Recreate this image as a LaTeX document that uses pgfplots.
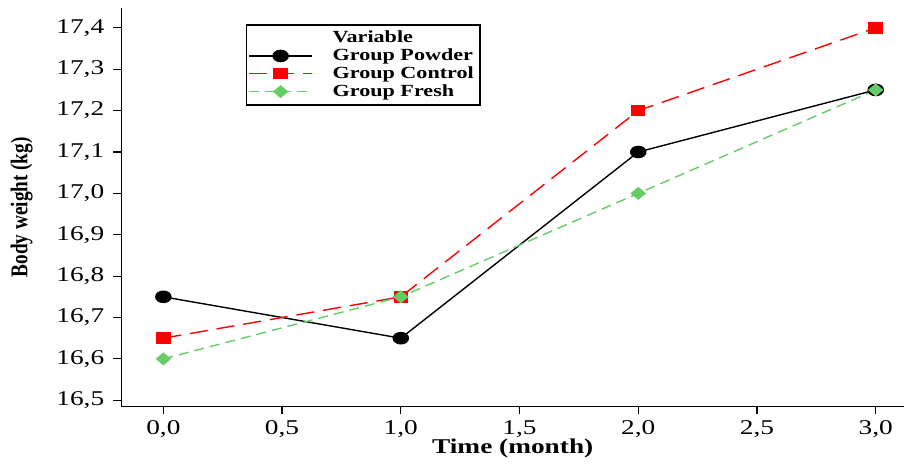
\documentclass[border=0pt]{standalone}
\usepackage{pgfplots}
\pgfplotsset{compat=1.18}
\usepackage{fontspec}
\setmainfont{Liberation Serif}[FakeStretch=1.3]
\newfontfamily\ylabfont{Liberation Serif}[FakeStretch=0.8]
\definecolor{fgreen}{RGB}{102,204,102}
\begin{document}
\begin{tikzpicture}
\begin{axis}[
  scale only axis,
  width=391pt, height=199pt,
  xmin=-0.177, xmax=3.12,
  ymin=16.485, ymax=17.448,
  axis lines*=left,
  axis line style={line width=0.8pt},
  tick align=outside,
  major tick length=4pt,
  tick style={black, line width=0.6pt},
  xtick={0,0.5,...,3},
  ytick={16.5,16.6,...,17.41},
  /pgf/number format/assume math mode=true,
  /pgf/number format/use comma,
  /pgf/number format/fixed,
  /pgf/number format/fixed zerofill,
  /pgf/number format/precision=1,
  ticklabel style={font=\fontsize{10.5}{12}\selectfont},
  yticklabel style={xshift=-1pt},
  xticklabel style={yshift=0.7pt},
  xlabel={\textbf{Time (month)}},
  ylabel={\textbf{Body weight (kg)}},
  label style={font=\fontsize{10.5}{12}\selectfont},
  xlabel style={yshift=6pt},
  ylabel style={yshift=5pt, font=\ylabfont\fontsize{12}{13}\selectfont},
  legend style={at={(0.159,0.96)}, anchor=north west, draw=black, line width=0.8pt,
    font=\bfseries\fontsize{8.5}{10}\selectfont, row sep=-2.5pt, inner sep=1pt, column sep=8pt},
  legend cell align=left,
  legend image code/.code={\draw[mark repeat=2,mark phase=2] plot coordinates {(0cm,0cm) (0.55cm,0cm) (1.1cm,0cm)};},
  clip=false,
]
\addlegendimage{empty legend}
\addlegendentry{Variable}
\addplot[black, line width=0.7pt, mark=*, mark size=2.8pt, mark options={xscale=1.35, solid}]
  coordinates {(0,16.75) (1,16.65) (2,17.1) (3,17.25)};
\addlegendentry{Group Powder}
\addplot[red, line width=0.7pt, dash pattern=on 9pt off 4.5pt, mark=square*, mark size=2.5pt, mark options={xscale=1.3, solid}]
  coordinates {(0,16.65) (1,16.75) (2,17.2) (3,17.4)};
\addlegendentry{Group Control}
\addplot[fgreen, line width=0.7pt, dash pattern=on 5pt off 3pt, mark=diamond*, mark size=3.3pt, mark options={xscale=1.35, yscale=0.85, solid}]
  coordinates {(0,16.6) (1,16.75) (2,17.0) (3,17.25)};
\addlegendentry{Group Fresh}
\end{axis}
\path ([yshift=4pt]current axis.north);
\path ([xshift=-2pt]current axis.outer west);
\end{tikzpicture}
\end{document}
